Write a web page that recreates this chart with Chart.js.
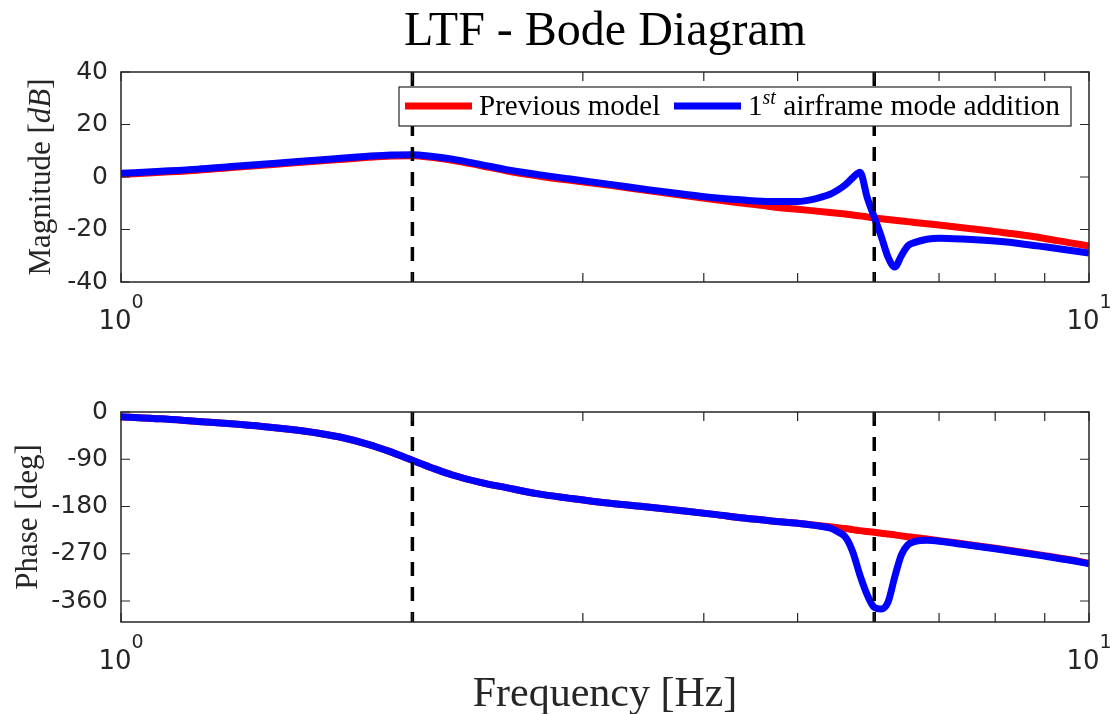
<!DOCTYPE html>
<html>
<head>
<meta charset="utf-8">
<script src="https://cdn.jsdelivr.net/npm/chart.js@4.4.1/dist/chart.umd.min.js"></script>
<style>
  html, body { margin: 0; padding: 0; background: #fff; }
  #wrap { position: relative; width: 1112px; height: 714px; }
  #wrap canvas { position: absolute; left: 0; top: 0; }
</style>
</head>
<body>
<div id="wrap">
  <canvas id="magChart" width="1112" height="714"></canvas>
  <canvas id="phaseChart" width="1112" height="714"></canvas>
</div>
<script>
// frequencies in Hz
const freq = [1.0, 1.1, 1.2, 1.3, 1.4, 1.5, 1.6, 1.7, 1.8, 1.9, 2.0, 2.1, 2.2, 2.35, 2.5, 2.7, 2.9, 3.2, 3.5, 3.8,
              4.1, 4.4, 4.7, 5.0, 5.2, 5.4, 5.5, 5.6, 5.7, 5.8, 5.9, 6.0, 6.1, 6.2, 6.3, 6.4, 6.5, 6.6, 6.8, 7.0,
              7.4, 8.0, 8.5, 9.0, 9.5, 10.0];

// magnitude in dB
const magPrev = [1.0, 1.8, 2.6, 3.6, 4.5, 5.3, 6.1, 6.8, 7.5, 8.0, 8.1, 7.4, 6.4, 4.4, 2.4, 0.4, -1.2, -3.2, -5.2, -7.0,
                 -8.6, -10.0, -11.3, -12.3, -12.9, -13.5, -13.8, -14.1, -14.5, -14.8, -15.2, -15.6, -15.9, -16.2, -16.5, -16.8, -17.0, -17.3, -17.8, -18.3,
                 -19.3, -20.8, -22.0, -23.4, -24.9, -26.3];
const magMode = [1.4, 2.2, 3.0, 4.0, 4.9, 5.7, 6.5, 7.2, 7.9, 8.4, 8.5, 7.8, 6.8, 4.8, 2.8, 0.9, -0.7, -2.8, -4.8, -6.5,
                 -7.9, -8.8, -9.3, -9.3, -8.4, -6.6, -5.0, -3.0, -0.3, 1.8, -7.8, -15.3, -22.6, -30.5, -34.3, -30.0, -26.2, -25.0, -23.7, -23.3,
                 -23.6, -24.4, -25.4, -26.6, -27.8, -29.0];

// phase in degrees
const phasePrev = [-9, -13, -18, -22.5, -27.5, -33.5, -40.5, -49.5, -61.5, -76, -92, -107, -120, -134, -144, -156, -164, -174, -181, -188,
                   -195, -202, -207.5, -212, -215, -218.5, -220.5, -222, -224, -226, -227.5, -229, -231, -232.5, -234, -236, -237.5, -239, -242, -245,
                   -251, -259.5, -266.5, -273.5, -280.5, -288];
const phaseMode = [-9, -13, -18, -22.5, -27.5, -33.5, -40.5, -49.5, -61.5, -76, -92, -107, -120, -134, -144, -156, -164, -174, -181, -188,
                   -195, -202, -207.5, -212, -216, -221, -228, -238, -266, -311, -348, -372, -375, -362, -314, -272, -253, -247, -244.5, -246,
                   -252, -260.5, -267.5, -274.5, -281.5, -289];

const magTicks = [-40, -20, 0, 20, 40];
const phaseTicks = [-360, -270, -180, -90, 0];
const markerFreqs = [2, 6];
const seriesNames = ['Previous model', '1st airframe mode addition'];

const RED = '#ff0000';
const BLUE = '#0000ff';
const AXIS = '#262626';
const SERIF = '"Liberation Serif", "Times New Roman", serif';
const SANS = '"DejaVu Sans", sans-serif';

function toPoints(vals) {
    return freq.map((f, i) => ({ x: f, y: vals[i] }));
}

// text made of pieces with different fonts / offsets
function drawRich(ctx, parts, x, y, align) {
    let total = 0;
    parts.forEach(p => { ctx.font = p.font; p.w = ctx.measureText(p.text).width; total += p.w; });
    let cx = align === 'center' ? x - total / 2 : x;
    ctx.textAlign = 'left';
    ctx.textBaseline = 'alphabetic';
    parts.forEach(p => { ctx.font = p.font; ctx.fillText(p.text, cx, y + (p.dy || 0)); cx += p.w; });
    return total;
}

function bodeDecor(cfg) {
    return {
        id: 'bodeDecor',
        afterDatasetsDraw(chart) {
            const ctx = chart.ctx, a = chart.chartArea;
            const xs = chart.scales.x, ys = chart.scales.y;

            // dashed markers
            ctx.save();
            ctx.strokeStyle = '#000';
            ctx.lineWidth = 3.5;
            ctx.setLineDash([14, 11]);
            markerFreqs.forEach(f => {
                const px = xs.getPixelForValue(f);
                ctx.beginPath();
                ctx.moveTo(px, a.top);
                ctx.lineTo(px, a.bottom);
                ctx.stroke();
            });
            ctx.restore();

            // box and inner ticks
            ctx.save();
            ctx.strokeStyle = AXIS;
            ctx.lineWidth = 1.5;
            ctx.strokeRect(a.left, a.top, a.right - a.left, a.bottom - a.top);
            ctx.lineWidth = 1.2;
            ctx.beginPath();
            xs.ticks.forEach(t => {
                const px = xs.getPixelForValue(t.value);
                ctx.moveTo(px, a.bottom); ctx.lineTo(px, a.bottom - 9);
                ctx.moveTo(px, a.top); ctx.lineTo(px, a.top + 9);
            });
            ys.ticks.forEach(t => {
                const py = ys.getPixelForValue(t.value);
                ctx.moveTo(a.left, py); ctx.lineTo(a.left + 9, py);
                ctx.moveTo(a.right, py); ctx.lineTo(a.right - 9, py);
            });
            ctx.stroke();
            ctx.restore();
        },
        afterDraw(chart) {
            const ctx = chart.ctx, a = chart.chartArea;
            const xs = chart.scales.x;
            ctx.save();
            ctx.fillStyle = AXIS;

            // decade labels 10^n
            xs.ticks.forEach(t => {
                const e = Math.log10(t.value);
                if (Math.abs(e - Math.round(e)) > 1e-9) return;
                drawRich(ctx, [
                    { text: '10', font: '26px ' + SANS },
                    { text: String(Math.round(e)), font: '19px ' + SANS, dy: -21 }
                ], xs.getPixelForValue(t.value), a.bottom + 47, 'center');
            });

            // y axis title, rotated
            ctx.save();
            ctx.translate(cfg.yTitleX, (a.top + a.bottom) / 2);
            ctx.rotate(-Math.PI / 2);
            drawRich(ctx, cfg.yTitle, 0, 0, 'center');
            ctx.restore();

            ctx.fillStyle = '#000';
            if (cfg.title) {
                drawRich(ctx, [{ text: cfg.title, font: '48px ' + SERIF }], (a.left + a.right) / 2, 45, 'center');
            }
            if (cfg.xTitle) {
                ctx.fillStyle = AXIS;
                drawRich(ctx, [{ text: cfg.xTitle, font: '42px ' + SERIF }], (a.left + a.right) / 2, 706, 'center');
            }

            if (cfg.legend) {
                const box = { x: 399, y: 87, w: 672, h: 39 };
                ctx.fillStyle = '#fff';
                ctx.fillRect(box.x, box.y, box.w, box.h);
                ctx.strokeStyle = AXIS;
                ctx.lineWidth = 1.2;
                ctx.strokeRect(box.x, box.y, box.w, box.h);
                const midY = box.y + 19;
                const ds = chart.data.datasets;
                const items = [
                    { x0: 405, color: ds[0].borderColor, parts: [{ text: seriesNames[0], font: '29px ' + SERIF }] },
                    { x0: 674, color: ds[1].borderColor, parts: [
                        { text: '1', font: '29px ' + SERIF },
                        { text: 'st', font: 'italic 20px ' + SERIF, dy: -11 },
                        { text: seriesNames[1].slice(3), font: '29.5px ' + SERIF }
                    ] }
                ];
                items.forEach(it => {
                    ctx.strokeStyle = it.color;
                    ctx.lineWidth = 7;
                    ctx.beginPath();
                    ctx.moveTo(it.x0, midY);
                    ctx.lineTo(it.x0 + 67, midY);
                    ctx.stroke();
                    ctx.fillStyle = '#000';
                    drawRich(ctx, it.parts, it.x0 + 74, midY + 9, 'left');
                });
            }
            ctx.restore();
        }
    };
}

function bodeOptions(areaTop, areaBottom, yMin, yMax, yTicks) {
    return {
        responsive: false,
        animation: false,
        events: [],
        layout: { padding: { left: 0, right: 1112 - 1089, top: areaTop, bottom: 714 - areaBottom } },
        plugins: { legend: { display: false }, tooltip: { enabled: false }, title: { display: false } },
        scales: {
            x: {
                type: 'logarithmic',
                min: 1,
                max: 10,
                grid: { display: false, drawTicks: false },
                border: { display: false },
                ticks: { display: false },
                // keep only the integer ticks 1..10 of the log scale
                afterBuildTicks: s => { s.ticks = s.ticks.filter(t => Math.abs(t.value - Math.round(t.value)) < 1e-9); },
                afterFit: s => { s.height = 0; }
            },
            y: {
                min: yMin,
                max: yMax,
                grid: { display: false, drawTicks: false },
                border: { display: false },
                afterBuildTicks: s => { s.ticks = yTicks.map(v => ({ value: v })); },
                ticks: { color: AXIS, font: { family: SANS, size: 25 }, padding: 13 },
                afterFit: s => { s.width = 121; }
            }
        }
    };
}

const lineStyle = { borderWidth: 7, pointRadius: 0, fill: false, cubicInterpolationMode: 'monotone', clip: 0 };

new Chart(document.getElementById('magChart'), {
    type: 'line',
    data: {
        datasets: [
            { label: seriesNames[0], data: toPoints(magPrev), borderColor: RED, order: 2, ...lineStyle },
            { label: seriesNames[1], data: toPoints(magMode), borderColor: BLUE, order: 1, ...lineStyle }
        ]
    },
    options: bodeOptions(72, 282, -40, 40, magTicks),
    plugins: [bodeDecor({
        title: 'LTF - Bode Diagram',
        legend: true,
        yTitleX: 50,
        yTitle: [
            { text: 'Magnitude [', font: '31px ' + SERIF },
            { text: 'dB', font: 'italic 31px ' + SERIF },
            { text: ']', font: '31px ' + SERIF }
        ]
    })]
});

new Chart(document.getElementById('phaseChart'), {
    type: 'line',
    data: {
        datasets: [
            { label: seriesNames[0], data: toPoints(phasePrev), borderColor: RED, order: 2, ...lineStyle },
            { label: seriesNames[1], data: toPoints(phaseMode), borderColor: BLUE, order: 1, ...lineStyle }
        ]
    },
    options: bodeOptions(412, 622, -400, 0, phaseTicks),
    plugins: [bodeDecor({
        xTitle: 'Frequency [Hz]',
        yTitleX: 37,
        yTitle: [{ text: 'Phase [deg]', font: '31px ' + SERIF }]
    })]
});
</script>
</body>
</html>
